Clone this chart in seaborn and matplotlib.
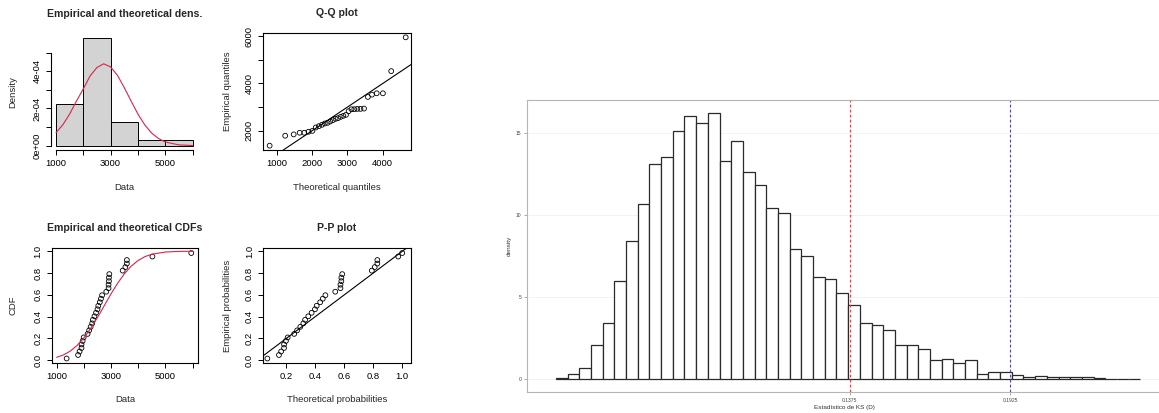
import numpy as np
import pandas as pd
import matplotlib
matplotlib.use("Agg")
import matplotlib.pyplot as plt
import seaborn as sns

sns.set_style("white")
plt.rcParams['font.family'] = ['Liberation Sans', 'DejaVu Sans']

obs = [1369, 1790, 1846, 1916, 1916, 1958, 1995, 2140, 2196, 2252, 2308, 2336,
       2393, 2449, 2505, 2533, 2589, 2631, 2673, 2827, 2911, 2911, 2925, 2925,
       2939, 3430, 3528, 3585, 3585, 4524, 5953]
# theoretical quantiles (Q-Q x axis)
theo_q = [800, 1240, 1480, 1650, 1780, 1900, 2010, 2105, 2195, 2280, 2360, 2440,
          2515, 2590, 2665, 2735, 2810, 2885, 2960, 3035, 3115, 3195, 3280, 3370,
          3470, 3580, 3695, 3830, 4005, 4240, 4650]
# theoretical probabilities (P-P x axis)
theo_p = [0.07, 0.15, 0.165, 0.185, 0.185, 0.198, 0.21, 0.255, 0.275, 0.297, 0.318,
          0.33, 0.352, 0.375, 0.398, 0.41, 0.434, 0.452, 0.47, 0.538, 0.574, 0.574,
          0.58, 0.58, 0.586, 0.79, 0.81, 0.828, 0.828, 0.972, 0.9995]
# fitted density curve
dens_x = [1000, 1250, 1500, 1750, 2000, 2250, 2500, 2750, 3000, 3250, 3500, 3750,
          4000, 4250, 4500, 4750, 5000, 5500, 6000]
dens_y = [0.70e-4, 1.12e-4, 1.70e-4, 2.40e-4, 3.05e-4, 3.75e-4, 4.20e-4, 4.40e-4,
          4.23e-4, 3.78e-4, 3.12e-4, 2.40e-4, 1.70e-4, 1.12e-4, 0.68e-4, 0.39e-4,
          0.20e-4, 0.045e-4, 0.01e-4]
# fitted cdf curve
cdf_x = [1000, 1250, 1500, 1750, 2000, 2250, 2500, 2750, 3000, 3250, 3500, 3750,
         4000, 4250, 4500, 5000, 5500, 6000]
cdf_y = [0.027, 0.049, 0.084, 0.135, 0.204, 0.291, 0.391, 0.5, 0.609, 0.709, 0.796,
         0.865, 0.916, 0.951, 0.973, 0.993, 0.999, 1.0]
hist_breaks = [1000, 2000, 3000, 4000, 5000, 6000]

# bootstrap KS statistic histogram
ks_start = 0.037
ks_bw = 0.004
ks_density = [0.08, 0.28, 0.67, 2.1, 3.4, 5.95, 8.43, 10.65, 13.1, 13.5,
              15.1, 16.0, 15.6, 16.2, 13.3, 14.5, 12.6, 11.8, 10.4, 10.1,
              7.9, 7.5, 6.2, 6.1, 5.26, 4.53, 3.43, 3.27, 2.97, 2.07,
              2.07, 1.8, 1.19, 1.24, 0.99, 1.18, 0.30, 0.44, 0.45, 0.27,
              0.14, 0.19, 0.11, 0.11, 0.11, 0.14, 0.08, 0.03, 0.03, 0.03]
ks_obs = 0.1375
ks_crit = 0.1925

n = len(obs)
emp_p = (np.arange(1, n + 1) - 0.5) / n

W, H = 1159, 413
fig = plt.figure(figsize=(W / 100, H / 100), dpi=100)


def box(x0, x1, y0, y1):
    return fig.add_axes([x0 / W, 1 - y1 / H, (x1 - x0) / W, (y1 - y0) / H])


TICK = 6.8
LAB = 6.8
TIT = 7.6
red = '#d8264a'


def rstyle(ax, title, xlab, ylab, x0, x1, y0, y1, ylab_x, ytick_rot=True):
    ax.set_facecolor('white')
    for s in ax.spines.values():
        s.set_color('black')
        s.set_linewidth(0.8)
    ax.tick_params(direction='out', length=3.5, width=0.7, colors='black',
                   labelsize=TICK, pad=3, bottom=True, left=True)
    if ytick_rot:
        for t in ax.get_yticklabels():
            t.set_rotation(90)
            t.set_va('center')
    ax.set_title(title, fontsize=TIT, fontweight='bold', y=1 + 20 / (y1 - y0),
                 va='center', pad=0)
    ax.set_xlabel(xlab, fontsize=LAB, va='center')
    ax.xaxis.set_label_coords(0.5, -37 / (y1 - y0))
    ax.set_ylabel(ylab, fontsize=LAB, va='center')
    ax.yaxis.set_label_coords((ylab_x - x0) / (x1 - x0), 0.5)


# ---- density comparison
ax1 = box(50.5, 198, 34, 150)
sns.histplot(x=obs, bins=hist_breaks, stat='density', color='#d3d3d3', edgecolor='black',
             linewidth=0.7, alpha=1, ax=ax1)
sns.lineplot(x=dens_x, y=dens_y, color=red, lw=0.8, ax=ax1)
ax1.set_xlim(800, 6200)
ax1.set_ylim(-0.23e-4, 6.0e-4)
ax1.set_xticks(hist_breaks)
ax1.set_xticklabels(['1000', '', '3000', '', '5000', ''])
ax1.set_yticks([0, 1e-4, 2e-4, 3e-4, 4e-4, 5e-4])
ax1.set_yticklabels(['0e+00', '', '2e-04', '', '4e-04', ''])
ax1.spines['top'].set_visible(False)
ax1.spines['right'].set_visible(False)
ax1.spines['left'].set_bounds(0, 5e-4)
ax1.spines['bottom'].set_bounds(1000, 6000)
rstyle(ax1, 'Empirical and theoretical dens.', 'Data', 'Density', 50.5, 198, 34, 150, 13)

# ---- Q-Q plot
ax2 = box(263, 411, 33, 150)
ax2.axline((1000, 1000), (5000, 5000), color='black', lw=0.8)
sns.scatterplot(x=theo_q, y=obs, marker='o', s=12, facecolor='none', edgecolor='black',
                linewidth=0.6, ax=ax2)
ax2.set_xlim(612, 4800)
ax2.set_ylim(1186, 6136)
ax2.set_xticks([1000, 2000, 3000, 4000])
ax2.set_yticks([2000, 3000, 4000, 5000, 6000])
ax2.set_yticklabels(['2000', '', '4000', '', '6000'])
rstyle(ax2, 'Q-Q plot', 'Theoretical quantiles', 'Empirical quantiles', 263, 411, 33, 150, 228)

# ---- CDF comparison
ax3 = box(51.7, 198, 248, 363)
sns.lineplot(x=cdf_x, y=cdf_y, color=red, lw=0.8, ax=ax3)
sns.scatterplot(x=obs, y=emp_p, marker='o', s=12, facecolor='none', edgecolor='black',
                linewidth=0.6, ax=ax3)
ax3.set_xlim(820, 6200)
ax3.set_ylim(-0.025, 1.03)
ax3.set_xticks(hist_breaks)
ax3.set_xticklabels(['1000', '', '3000', '', '5000', ''])
ax3.set_yticks([0, 0.2, 0.4, 0.6, 0.8, 1.0])
ax3.set_yticklabels(['0.0', '0.2', '0.4', '0.6', '0.8', '1.0'])
rstyle(ax3, 'Empirical and theoretical CDFs', 'Data', 'CDF', 51.7, 198, 248, 363, 13)

# ---- P-P plot
ax4 = box(263, 411, 248, 363)
ax4.axline((0, 0), (1, 1), color='black', lw=0.8)
sns.scatterplot(x=theo_p, y=emp_p, marker='o', s=12, facecolor='none', edgecolor='black',
                linewidth=0.6, ax=ax4)
ax4.set_xlim(0.04, 1.06)
ax4.set_ylim(-0.025, 1.03)
ax4.set_xticks([0.2, 0.4, 0.6, 0.8, 1.0])
ax4.set_xticklabels(['0.2', '0.4', '0.6', '0.8', '1.0'])
ax4.set_yticks([0, 0.2, 0.4, 0.6, 0.8, 1.0])
ax4.set_yticklabels(['0.0', '0.2', '0.4', '0.6', '0.8', '1.0'])
rstyle(ax4, 'P-P plot', 'Theoretical probabilities', 'Empirical probabilities',
       263, 411, 248, 363, 228)

# ---- KS bootstrap histogram
ks_edges = [ks_start + ks_bw * i for i in range(len(ks_density) + 1)]
ks_df = pd.DataFrame({'mid': ks_start + ks_bw * (np.arange(len(ks_density)) + 0.5),
                      'dens': ks_density})
ax5 = box(527, 1161, 100, 392)
ax5.grid(True, color='#f1f1f1', lw=0.6)
ax5.set_axisbelow(True)
sns.histplot(data=ks_df, x='mid', weights='dens', bins=ks_edges, stat='count', color='white',
             edgecolor='#2a2a2a', linewidth=0.9, alpha=1, ax=ax5)
ax5.axvline(ks_obs, color='#e04848', ls=(0, (2.5, 2)), lw=0.8)
ax5.axvline(ks_crit, color='#4848a8', ls=(0, (2.5, 2)), lw=0.8)
ax5.set_xlim(0.0271, 0.0271 + 634 / 2922)
ax5.set_ylim(-0.79, 17.0)
ax5.set_xticks([ks_obs, ks_crit])
ax5.set_xticklabels(['0.1375', '0.1925'])
ax5.set_yticks([0, 5, 10, 15])
for s in ax5.spines.values():
    s.set_color('#b5b5b5')
    s.set_linewidth(0.8)
ax5.tick_params(direction='out', length=2, width=0.5, colors='#888888', labelcolor='#444444',
                labelsize=3.6, pad=2, bottom=True, left=True)
ax5.set_xlabel('Estadístico de KS (D)', fontsize=4.6, color='#333333', va='center')
ax5.xaxis.set_label_coords(0.5, -(407 - 392) / 292)
ax5.set_ylabel('density', fontsize=4.6, color='#333333', va='center')
ax5.yaxis.set_label_coords((509 - 527) / 634, 0.5)

fig.savefig('out.png', dpi=100)
